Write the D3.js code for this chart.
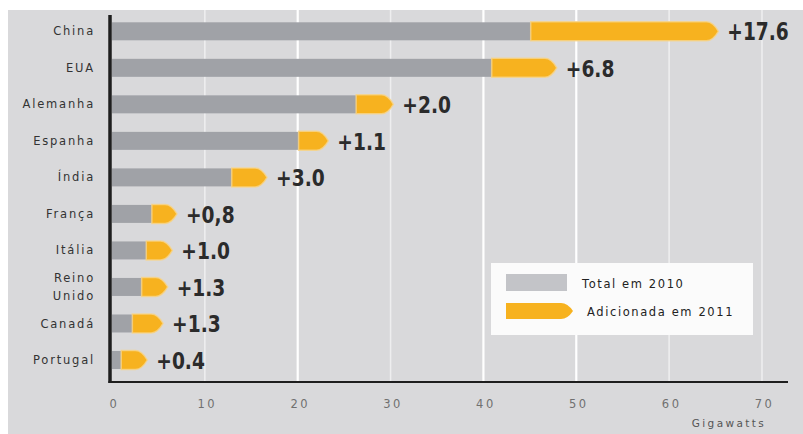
<!DOCTYPE html>
<html><head><meta charset="utf-8">
<script src="https://cdn.jsdelivr.net/npm/d3@7"></script>
<style>html,body{margin:0;padding:0;background:#fff}svg{display:block}</style>
</head><body>
<svg id="chart" width="803" height="434"></svg>
<script>
const categories = ["China","EUA","Alemanha","Espanha","Índia","França","Itália","Reino Unido","Canadá","Portugal"];
const total2010 = [45.2, 41.0, 26.4, 20.2, 13.0, 4.4, 3.8, 3.3, 2.3, 1.1];
const total2011 = [65.3, 47.9, 30.3, 23.3, 16.7, 7.0, 6.5, 6.0, 5.5, 3.8];
const addedLabels = ["+17.6","+6.8","+2.0","+1.1","+3.0","+0,8","+1.0","+1.3","+1.3","+0.4"];
const xTicks = [0,10,20,30,40,50,60,70];
const brightTicks = [20,40,50];
const legendLabels = ["Total em 2010","Adicionada em 2011"];
const unitLabel = "Gigawatts";

const W = 803, H = 434;
const GRAY = "#a0a2a7", YELLOW = "#f7b21f", BG = "#d9d9db";
const svg = d3.select("#chart");

svg.append("rect").attr("x",8).attr("y",10).attr("width",W-8).attr("height",H-10).attr("fill",BG);

const x = d3.scaleLinear().domain([0,70]).range([112,762]);
const y = d3.scalePoint().domain(categories).range([31.3,360]);
const barH = 18;
const plotTop = 10, plotBottom = 382;

// gridlines
svg.append("g").selectAll("line").data(xTicks.filter(d=>d>0)).join("line")
  .attr("x1",d=>x(d)).attr("x2",d=>x(d))
  .attr("y1",plotTop).attr("y2",plotBottom)
  .attr("stroke","#fff")
  .attr("stroke-width",d=>brightTicks.includes(d)?2.2:1.6)
  .attr("stroke-opacity",d=>brightTicks.includes(d)?1:0.55);

const rows = categories.map((c,i)=>({c, a:total2010[i], b:total2011[i], lab:addedLabels[i]}));

function arrowPath(x0,x1,cy,h){
  const t = Math.min(12,(x1-x0)*0.6);
  return `M${x0},${cy-h/2} L${x1-t},${cy-h/2} Q${x1-t*0.45},${cy-h/2} ${x1},${cy} Q${x1-t*0.45},${cy+h/2} ${x1-t},${cy+h/2} L${x0},${cy+h/2} Z`;
}

// gray bars
svg.append("g").selectAll("rect").data(rows).join("rect")
  .attr("x",x(0)).attr("y",d=>y(d.c)-barH/2)
  .attr("width",d=>x(d.a)-x(0)).attr("height",barH)
  .attr("fill",GRAY);

// yellow arrows
svg.append("g").selectAll("path").data(rows).join("path")
  .attr("d",d=>arrowPath(x(d.a)-1,x(d.b),y(d.c),barH+1))
  .attr("fill",YELLOW)
  .attr("stroke","#f8d48a").attr("stroke-width",1.5).attr("stroke-opacity",0.8);

// value labels
svg.append("g").selectAll("text").data(rows).join("text")
  .attr("x",d=>x(d.b)+9).attr("y",d=>y(d.c)+1)
  .attr("dominant-baseline","central")
  .attr("font-family","'DejaVu Sans Condensed','DejaVu Sans',sans-serif")
  .attr("font-weight","bold")
  .attr("font-size",(d,i)=>i===0?24:23)
  .attr("fill","#2b2b2b")
  .text(d=>d.lab)
  .each(function(d,i){
    const w = this.getComputedTextLength();
    d3.select(this).attr("textLength", w*(i===0?0.86:0.9)).attr("lengthAdjust","spacingAndGlyphs");
  });

// category labels
const cl = svg.append("g").selectAll("text").data(rows).join("text")
  .attr("x",94).attr("y",d=>y(d.c))
  .attr("text-anchor","end")
  .attr("font-family","'DejaVu Sans',sans-serif")
  .attr("font-size",11.5)
  .attr("letter-spacing",1.8)
  .attr("fill","#333");
cl.each(function(d){
  const parts = d.c.split(" ");
  const t = d3.select(this);
  parts.forEach((p,k)=>{
    t.append("tspan").attr("x",95)
     .attr("y",y(d.c)+(k-(parts.length-1)/2)*18)
     .attr("dy","0.35em").text(p);
  });
});

// axes lines
svg.append("line").attr("x1",110).attr("x2",110).attr("y1",15).attr("y2",plotBottom+1)
  .attr("stroke","#1e1e1e").attr("stroke-width",3.5);
svg.append("line").attr("x1",108.5).attr("x2",788).attr("y1",plotBottom).attr("y2",plotBottom)
  .attr("stroke","#1e1e1e").attr("stroke-width",2.2);

// tick labels via axis
const axis = d3.axisBottom(x).tickValues(xTicks).tickSize(0).tickPadding(0).tickFormat(d3.format("d"));
const ag = svg.append("g").attr("transform",`translate(2,${plotBottom+18})`).call(axis);
ag.select(".domain").remove();
ag.selectAll("text")
  .attr("font-family","'DejaVu Sans',sans-serif")
  .attr("font-size",11.5).attr("letter-spacing",2.5)
  .attr("fill","#707070");

svg.append("text").attr("x",729).attr("y",423).attr("text-anchor","middle")
  .attr("dominant-baseline","central")
  .attr("font-family","'DejaVu Sans',sans-serif").attr("font-size",10.5)
  .attr("letter-spacing",2.4).attr("fill","#555").text(unitLabel);

// legend
const lg = svg.append("g");
lg.append("rect").attr("x",491).attr("y",263).attr("width",262).attr("height",72).attr("fill","#fbfbfb");
lg.append("rect").attr("x",506).attr("y",274).attr("width",61).attr("height",17).attr("fill","#c3c4c8");
lg.append("path").attr("d",arrowPath(506,573,311,16)).attr("fill",YELLOW);
lg.selectAll("text.l").data(legendLabels).join("text")
  .attr("x",(d,i)=>i===0?582:587).attr("y",(d,i)=>i===0?284:312)
  .attr("dominant-baseline","central")
  .attr("font-family","'DejaVu Sans',sans-serif").attr("font-size",11.5)
  .attr("letter-spacing",1.6).attr("fill","#222").text(d=>d);
</script>
</body></html>
